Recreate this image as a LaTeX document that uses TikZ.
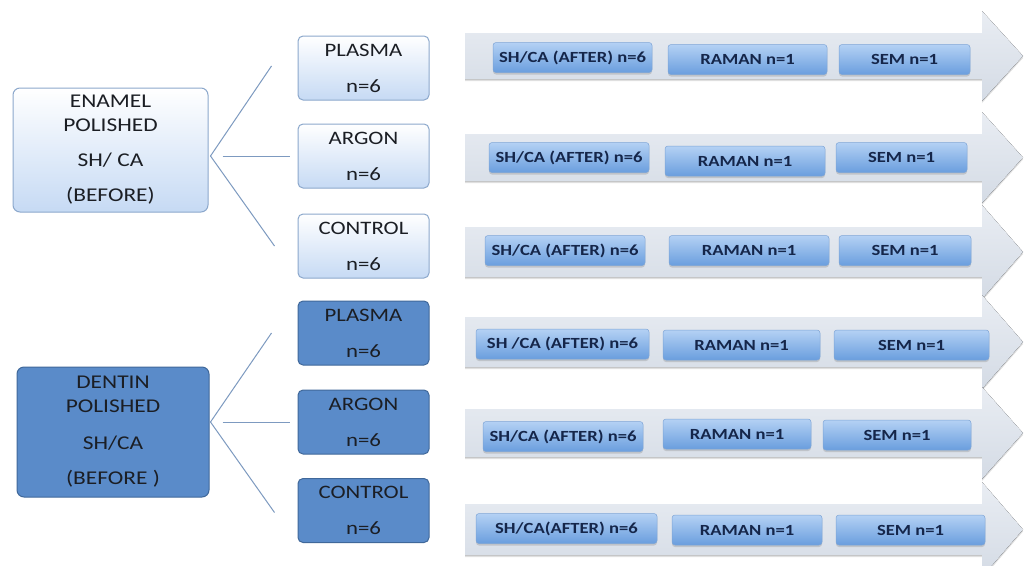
\documentclass[tikz,border=0pt]{standalone}
\usepackage{fontspec}
\setmainfont{Carlito}[FakeStretch=1.2]
\usetikzlibrary{calc,shadows}
\definecolor{ink}{HTML}{1B1E24}
\definecolor{enamelfill}{HTML}{C6DAF4}
\definecolor{enamelline}{HTML}{8CA8CC}
\definecolor{dentinfill}{HTML}{5A8BC9}
\definecolor{dentinline}{HTML}{40689A}
\definecolor{pilltop}{HTML}{B4D1F4}
\definecolor{pillbottom}{HTML}{6A9EDE}
\definecolor{pillline}{HTML}{7EA5D6}
\definecolor{pillink}{HTML}{15264A}
\definecolor{bartop}{HTML}{E9EDF3}
\definecolor{barbottom}{HTML}{D4DBE5}
\definecolor{branchline}{HTML}{7D9AC0}
\tikzset{
  groupbox/.style={
    rounded corners=7pt,
    line width=1pt,
    align=center,
    inner sep=0pt,
    text=ink,
    font=\fontsize{19.5}{24}\selectfont
  },
  enamelbox/.style={groupbox,draw=enamelline,top color=white,bottom color=enamelfill},
  dentinbox/.style={groupbox,draw=dentinline,fill=dentinfill},
  treatbox/.style={
    rounded corners=5pt,
    line width=1pt,
    align=center,
    inner sep=0pt,
    minimum width=131pt,
    minimum height=64pt,
    text=ink,
    font=\fontsize{19}{23}\selectfont
  },
  enameltreat/.style={treatbox,draw=enamelline,top color=white,bottom color=enamelfill},
  dentintreat/.style={treatbox,draw=dentinline,fill=dentinfill},
  pill/.style={
    rounded corners=3pt,
    draw=pillline,
    line width=0.5pt,
    top color=pilltop,
    bottom color=pillbottom,
    text=pillink,
    inner sep=0pt,
    minimum height=30pt,
    font=\bfseries\fontsize{15.5}{18}\selectfont,
    drop shadow={shadow xshift=0pt,shadow yshift=-2pt,opacity=0.3}
  },
  bar/.style={
    top color=bartop,
    bottom color=barbottom,
    drop shadow={shadow xshift=0pt,shadow yshift=-2pt,opacity=0.25}
  },
  branch/.style={draw=branchline,line width=1pt}
}

\begin{document}
\begin{tikzpicture}[x=1pt,y=-1pt]
  \useasboundingbox[fill=white] (0,0) rectangle (1024,565);

  % Grey process arrows, one per treatment group.
  \foreach \ya/\yb in {33/79,134/181,227/277,317/367,409/457,504/555}
    \fill[bar] (465,\ya) -- (982,\ya) -- (982,\ya-22) -- (1023,{(\ya+\yb)/2})
      -- (982,\yb+22) -- (982,\yb) -- (465,\yb) -- cycle;

  % Substrates.
  \node[enamelbox,minimum width=195pt,minimum height=124pt] (enamel) at (110.5,150)
    {ENAMEL\\POLISHED\\[11pt]SH/ CA\\[11pt](BEFORE)};
  \node[dentinbox,minimum width=192pt,minimum height=130pt] (dentin) at (113,432)
    {DENTIN\\POLISHED\\[13pt]SH/CA\\[11pt](BEFORE )};

  % Treatment groups.
  \node[enameltreat] (eplasma) at (363.5,68) {PLASMA\\[13pt]n=6};
  \node[enameltreat] (eargon) at (363.5,156) {ARGON\\[13pt]n=6};
  \node[enameltreat] (econtrol) at (363.5,246) {CONTROL\\[13pt]n=6};
  \node[dentintreat] (dplasma) at (363.5,333) {PLASMA\\[13pt]n=6};
  \node[dentintreat] (dargon) at (363.5,422) {ARGON\\[13pt]n=6};
  \node[dentintreat] (dcontrol) at (363.5,510.5) {CONTROL\\[13pt]n=6};

  % Analyses along each arrow.
  \node[pill,minimum width=159pt] (shca1) at (572.5,57.5) {SH/CA (AFTER) n=6};
  \node[pill,minimum width=159pt] (raman1) at (747.5,59.5) {RAMAN n=1};
  \node[pill,minimum width=131pt] (sem1) at (904.5,59.5) {SEM n=1};

  \node[pill,minimum width=160pt] (shca2) at (569,157.5) {SH/CA (AFTER) n=6};
  \node[pill,minimum width=160pt] (raman2) at (745,161) {RAMAN n=1};
  \node[pill,minimum width=131pt] (sem2) at (901.5,157.5) {SEM n=1};

  \node[pill,minimum width=160pt] (shca3) at (565,250.5) {SH/CA (AFTER) n=6};
  \node[pill,minimum width=160pt] (raman3) at (749,250.5) {RAMAN n=1};
  \node[pill,minimum width=132pt] (sem3) at (905,250.5) {SEM n=1};

  \node[pill,minimum width=173pt] (shca4) at (562.5,344) {SH /CA (AFTER) n=6};
  \node[pill,minimum width=157pt] (raman4) at (741.5,345) {RAMAN n=1};
  \node[pill,minimum width=155pt] (sem4) at (911.5,345) {SEM n=1};

  \node[pill,minimum width=160pt] (shca5) at (563,436.5) {SH/CA (AFTER) n=6};
  \node[pill,minimum width=148pt] (raman5) at (737,434) {RAMAN n=1};
  \node[pill,minimum width=148pt] (sem5) at (897,435) {SEM n=1};

  \node[pill,minimum width=181pt] (shca6) at (566.5,528.5) {SH/CA(AFTER) n=6};
  \node[pill,minimum width=150pt] (raman6) at (747,530) {RAMAN n=1};
  \node[pill,minimum width=149pt] (sem6) at (910.5,530) {SEM n=1};

  % Branch lines from substrate to treatments.
  \coordinate (ejoin) at ($(enamel.east)+(2,6)$);
  \coordinate (eup) at ($(eplasma.west)+(-26,-2)$);
  \coordinate (edown) at ($(econtrol.west)+(-23,0)$);
  \coordinate (emid) at ($(ejoin)+(12,0)$);
  \coordinate (djoin) at ($(dentin.east)+(1,-10)$);
  \coordinate (dup) at ($(dplasma.west)+(-26,0)$);
  \coordinate (ddown) at ($(dcontrol.west)+(-23,2)$);
  \coordinate (dmid) at ($(djoin)+(12,0)$);

  \draw[branch] (eup) -- (ejoin) -- (edown);
  \draw[branch] (emid) -- ($(eargon.west)+(-8,0)$);
  \draw[branch] (dup) -- (djoin) -- (ddown);
  \draw[branch] (dmid) -- ($(dargon.west)+(-8,0)$);

\end{tikzpicture}
\end{document}
